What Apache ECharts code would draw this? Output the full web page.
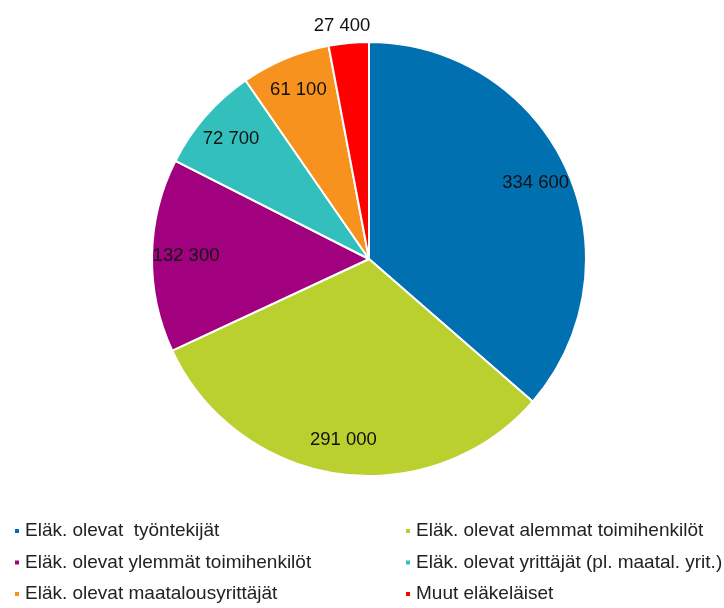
<!DOCTYPE html>
<html>
<head>
<meta charset="utf-8">
<script src="https://cdn.jsdelivr.net/npm/echarts@6/dist/echarts.min.js"></script>
<style>html,body{margin:0;padding:0;background:#fff;}#c{width:724px;height:608px;}</style>
</head>
<body>
<div id="c"></div>
<script>
const categories = [
  'Eläk. olevat  työntekijät',
  'Eläk. olevat alemmat toimihenkilöt',
  'Eläk. olevat ylemmät toimihenkilöt',
  'Eläk. olevat yrittäjät (pl. maatal. yrit.)',
  'Eläk. olevat maatalousyrittäjät',
  'Muut eläkeläiset'
];
const values = [334600, 291000, 132300, 72700, 61100, 27400];
const colors = ['#0070B0', '#B9D02E', '#A1007E', '#33C0BD', '#F7921E', '#FF0000'];

function fmt(v) { return String(v).replace(/\B(?=(\d{3})+(?!\d))/g, ' '); }

const mainData = categories.map((n, i) => {
  const d = { name: n, value: values[i], itemStyle: { color: colors[i] } };
  if (i === 5) {
    d.label = { show: true, position: 'outside' };
    d.labelLine = { show: false, length: 17, length2: 0 };
  }
  return d;
});
const labelData = categories.map((n, i) => ({
  name: n, value: values[i],
  label: { show: i !== 5 }
}));

const labelFont = { fontFamily: 'Liberation Sans, Arial, sans-serif', fontSize: 18.5, color: '#111' };
const legendFont = { fontFamily: 'Liberation Sans, Arial, sans-serif', fontSize: 19, color: '#222', lineHeight: 19 };

function legendAt(left, items) {
  return {
    orient: 'vertical', left: left, top: 521.5, height: 100, padding: 0, itemGap: 12.5,
    icon: 'rect', itemWidth: 6, itemHeight: 6,
    data: items,
    textStyle: legendFont,
    selectedMode: false
  };
}

const chart = echarts.init(document.getElementById('c'));
chart.setOption({
  animation: false,
  legend: [
    legendAt(13, [categories[0], categories[2], categories[4]]),
    legendAt(404, [categories[1], categories[3], categories[5]])
  ],
  series: [
    {
      type: 'pie', center: [369, 259], radius: [0, 217],
      startAngle: 90, clockwise: true,
      itemStyle: { borderColor: '#fff', borderWidth: 2 },
      label: Object.assign({ show: false, formatter: p => fmt(p.value) }, labelFont),
      labelLine: { show: false },
      labelLayout: function (p) { return { align: 'center' }; },
      emphasis: { disabled: true },
      data: mainData
    },
    {
      type: 'pie', center: [369, 259], radius: [0, 360],
      startAngle: 90, clockwise: true, silent: true,
      itemStyle: { color: 'rgba(0,0,0,0)', borderWidth: 0 },
      label: Object.assign({ position: 'inside', formatter: p => fmt(p.value) }, labelFont),
      labelLine: { show: false },
      emphasis: { disabled: true },
      data: labelData
    }
  ]
});
</script>
</body>
</html>
